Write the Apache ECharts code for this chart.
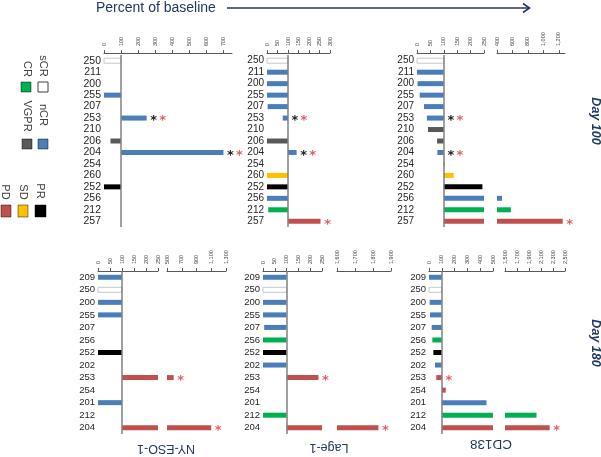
<!DOCTYPE html>
<html>
<head>
<meta charset="utf-8">
<script src="https://cdn.jsdelivr.net/npm/echarts@6/dist/echarts.min.js"></script>
<style>html,body{margin:0;padding:0;background:#fff}#c{width:601px;height:457px}</style>
</head>
<body>
<div id="c"></div>
<script>
// ---------- data ----------
const day100Cats = ['250','211','200','255','207','253','210','206','204','254','260','252','256','212','257'];
const day100Resp = ['sCR','nCR','nCR','nCR','nCR','nCR','VGPR','VGPR','nCR','PR','SD','PR','nCR','CR','PD'];
const day180Cats = ['209','250','200','255','207','256','252','202','253','254','201','212','204'];
const day180Resp = ['nCR','sCR','nCR','nCR','nCR','CR','PR','nCR','PD','PD','nCR','CR','PD'];

// percent of baseline (null = no bar)
const nyeso100 = [0, null, null, 0, null, 250, null, 38, 700, null, null, 0, null, null, null];
const lage100  = [0, 0, 0, 0, 3, 75, null, 0, 141, null, 0, 0, 0, 6, 255];
const cd138_100 = [0, 0, 2, 10, 26, 37, 41, 75, 76, 102, 137, 244, 465, 580, 1250];
const nyeso180 = [0, 0, 0, 0, null, null, 0, null, 590, null, 0, null, 1100];
const lage180  = [0, 0, 0, 0, 5, 0, 0, 0, 235, null, null, 0, 1830];
const cd138_180 = [0, 0, 5, 8, 21, 26, 34, 47, 57, 131, 449, 2025, 2245];

// significance asterisks: category -> colours
const nyeso100Stars = {'253':['#222','#e0606a'], '204':['#222','#e0606a']};
const lage100Stars  = {'253':['#222','#e0606a'], '204':['#222','#e0606a'], '257':['#e0606a']};
const cd138_100Stars = {'253':['#222','#e0606a'], '204':['#222','#e0606a'], '257':['#e0606a']};
const nyeso180Stars = {'253':['#e0606a'], '204':['#e0606a']};
const lage180Stars  = {'253':['#e0606a'], '204':['#e0606a']};
const cd138_180Stars = {'253':['#e0606a'], '204':['#e0606a']};

const legendItems = ['sCR','CR','nCR','VGPR','PR','SD','PD'];
const panelTitles = ['NY-ESO-1','Lage-1','CD138'];
const rowTitles = ['Day 100','Day 180'];

// ---------- styles ----------
const respColor = {sCR:'#ffffff', nCR:'#4a7ebb', CR:'#00b050', VGPR:'#595959', PR:'#000000', SD:'#ffc000', PD:'#c0504d'};
const navy = '#1f3864';

const panels = [
  {cats:day100Cats, resp:day100Resp, vals:nyeso100, stars:nyeso100Stars, top:55, height:172, font:10.5,
   segs:[{min:0,max:750,interval:100,left:104,width:128,showMax:false}]},
  {cats:day100Cats, resp:day100Resp, vals:lage100, stars:lage100Stars, top:55, height:172, font:10,
   segs:[{min:0,max:300,interval:50,left:267,width:63,showMax:true}]},
  {cats:day100Cats, resp:day100Resp, vals:cd138_100, stars:cd138_100Stars, top:55, height:172, font:10,
   segs:[{min:0,max:250,interval:50,left:417,width:67,showMax:true},
         {min:400,max:1280,interval:200,left:497,width:68,showMax:false}]},
  {cats:day180Cats, resp:day180Resp, vals:nyeso180, stars:nyeso180Stars, top:271, height:163, font:9.5,
   segs:[{min:0,max:250,interval:50,left:98,width:60,showMax:true},
         {min:500,max:1300,interval:200,left:167,width:59,showMax:true}]},
  {cats:day180Cats, resp:day180Resp, vals:lage180, stars:lage180Stars, top:271, height:163, font:9.5,
   segs:[{min:0,max:250,interval:50,left:263,width:59,showMax:true},
         {min:1600,max:1900,interval:100,left:337,width:54,showMax:true}]},
  {cats:day180Cats, resp:day180Resp, vals:cd138_180, stars:cd138_180Stars, top:271, height:163, font:9.5,
   segs:[{min:0,max:500,interval:100,left:429,width:64,showMax:true},
         {min:1500,max:2500,interval:200,left:505,width:60,showMax:true}]}
];

const grids = [], xAxes = [], yAxes = [], series = [];
panels.forEach(function(p){
  p.segs.forEach(function(seg, si){
    const gi = grids.length;
    grids.push({left:seg.left, top:p.top, width:seg.width, height:p.height, containLabel:false, outerBoundsMode:'none'});
    xAxes.push({gridIndex:gi, type:'value', position:'top', min:seg.min, max:seg.max, interval:seg.interval,
      offset: p.top===55 ? 2 : 0,
      axisLine:{show:true, onZero:false, lineStyle:{color:'#595959', width:1}},
      axisTick:{show:true, length:3, lineStyle:{color:'#595959'}},
      splitLine:{show:false},
      axisLabel:{rotate:-90, fontSize:5.5, color:'#404040', margin:7, fontFamily:'Liberation Sans',
        showMinLabel:true, showMaxLabel:seg.showMax, hideOverlap:false,
        formatter:function(v){return Number(v).toLocaleString('en-US');}}
    });
    yAxes.push({gridIndex:gi, type:'category', data:p.cats, inverse:true,
      axisLine:{show:false}, axisTick:{show:false}, splitLine:{show:false},
      axisLabel:{show:si===0, interval:0, fontSize:p.font, color:'#262626', margin:3, fontFamily:'Liberation Sans'}});
    const data = p.vals.map(function(v,i){return [i,v];}).filter(function(d){return d[1]!==null;});
    series.push({type:'custom', xAxisIndex:gi, yAxisIndex:gi, encode:{x:1,y:0}, data:data, clip:false,
      renderItem:function(params, api){
        const ci = api.value(0), v = api.value(1);
        const resp = p.resp[ci];
        const children = [];
        let from, to;
        if (si === 0) { from = 100; to = Math.max(seg.min, Math.min(v, seg.max)); }
        else { if (v <= seg.min) return {type:'group', children:[]}; from = seg.min; to = Math.min(v, seg.max); }
        const a = api.coord([from, ci]), b = api.coord([to, ci]);
        const h = 5;
        if (Math.abs(b[0]-a[0]) > 0.01) {
          children.push({type:'rect', shape:{x:Math.min(a[0],b[0]), y:a[1]-h/2, width:Math.abs(b[0]-a[0]), height:h},
            style:{fill:respColor[resp], stroke: resp==='sCR' ? '#c8c8c8' : null, lineWidth:1}});
        }
        const endSeg = (p.segs.length > 1 && v > p.segs[0].max) ? 1 : 0;
        const st = p.stars[p.cats[ci]];
        if (st && si === endSeg) {
          const xe = api.coord([Math.min(Math.max(v,100), seg.max), ci])[0];
          st.forEach(function(col, k){
            children.push({type:'text', x: xe + 7 + k*9, y: a[1] + 3,
              style:{text:'*', fill:col, font:'bold 13px "DejaVu Sans"', textAlign:'center', textVerticalAlign:'middle'}});
          });
        }
        return {type:'group', children:children};
      }
    });
    if (si === 0) {
      series.push({type:'line', xAxisIndex:gi, yAxisIndex:gi, data:[], silent:true,
        markLine:{silent:true, symbol:'none', label:{show:false}, animation:false,
          lineStyle:{color:'#808080', width:1.5, type:'solid'}, data:[{xAxis:100}]}});
    }
  });
});

// ---------- graphics ----------
const graphic = [];
// title + arrow
graphic.push({type:'text', x:96, y:8, style:{text:'Percent of baseline', fill:navy, font:'14px "Liberation Sans"', textVerticalAlign:'middle'}});
graphic.push({type:'line', shape:{x1:227, y1:8, x2:529, y2:8}, style:{stroke:navy, lineWidth:1.6}});
graphic.push({type:'polyline', shape:{points:[[523,3.5],[529.5,8],[523,12.5]]}, style:{stroke:navy, lineWidth:1.6, fill:null}});

// legend
const legendPos = {
  sCR:{tx:43, ty:66, bx:38, by:82, bw:10, bh:10},
  CR:{tx:27, ty:69, bx:21, by:82, bw:10, bh:10},
  nCR:{tx:43, ty:115, bx:38, by:139, bw:10, bh:10},
  VGPR:{tx:27, ty:116, bx:22, by:139, bw:10, bh:10},
  PR:{tx:40, ty:191, bx:35, by:205, bw:11, bh:12},
  SD:{tx:23, ty:192, bx:18, by:205, bw:10, bh:12},
  PD:{tx:5, ty:192, bx:1, by:205, bw:10, bh:12}
};
legendItems.forEach(function(k){
  const L = legendPos[k];
  graphic.push({type:'text', x:L.tx, y:L.ty, rotation:-Math.PI/2,
    style:{text:k, fill:'#404040', font:'11px "Liberation Sans"', textAlign:'center', textVerticalAlign:'middle'}});
  graphic.push({type:'rect', shape:{x:L.bx, y:L.by, width:L.bw, height:L.bh},
    style:{fill:respColor[k], stroke: k==='sCR' ? '#404040' : 'rgba(0,0,0,0.45)', lineWidth:1}});
});

// row titles
[[595,121],[595,343]].forEach(function(pos, i){
  graphic.push({type:'text', x:pos[0], y:pos[1], rotation:-Math.PI/2,
    style:{text:rowTitles[i], fill:navy, font:'italic bold 12.5px "Liberation Sans"', textAlign:'center', textVerticalAlign:'middle'}});
});

// panel titles (upside down)
[[166,448,12.5],[329,447,12.5],[491,444,13.5]].forEach(function(pos, i){
  graphic.push({type:'text', x:pos[0], y:pos[1], rotation:Math.PI,
    style:{text:panelTitles[i], fill:navy, font:pos[2]+'px "Liberation Sans"', textAlign:'center', textVerticalAlign:'middle'}});
});

const chart = echarts.init(document.getElementById('c'), null, {renderer:'canvas'});
chart.setOption({
  animation:false,
  backgroundColor:'#ffffff',
  grid:grids, xAxis:xAxes, yAxis:yAxes, series:series, graphic:graphic
});
</script>
</body>
</html>
